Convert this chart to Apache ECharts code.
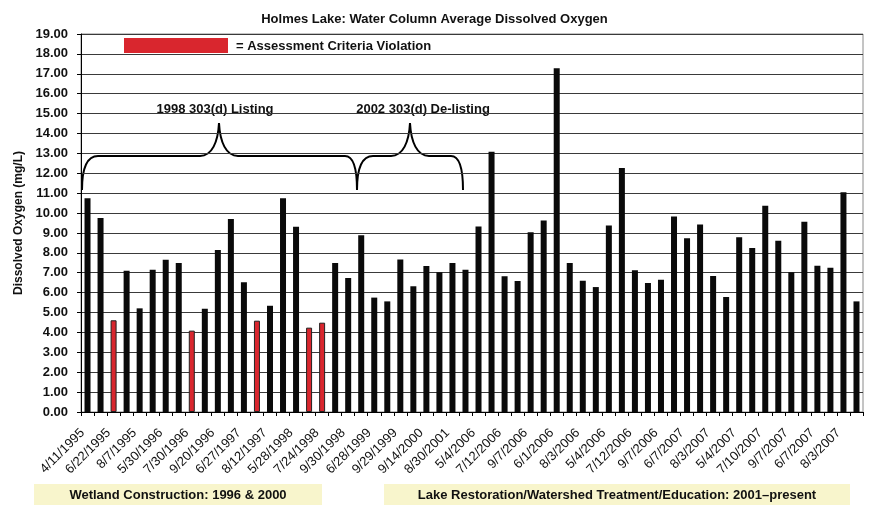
<!DOCTYPE html>
<html>
<head>
<meta charset="utf-8">
<script src="https://cdn.jsdelivr.net/npm/echarts@6/dist/echarts.min.js"></script>
<style>
  html, body { margin: 0; padding: 0; background: #fff; }
  #main { width: 869px; height: 505px; }
</style>
</head>
<body>
<div id="main"></div>
<script>
// sampling dates shown under every other bar
const tickLabels = [
  '4/11/1995', '6/22/1995', '8/7/1995', '5/30/1996', '7/30/1996', '9/20/1996',
  '6/27/1997', '8/12/1997', '5/28/1998', '7/24/1998', '9/30/1998', '6/28/1999',
  '9/29/1999', '9/14/2000', '8/30/2001', '5/4/2006', '7/12/2006', '9/7/2006',
  '6/1/2006', '8/3/2006', '5/4/2006', '7/12/2006', '9/7/2006', '6/7/2007',
  '8/3/2007', '5/4/2007', '7/10/2007', '9/7/2007', '6/7/2007', '8/3/2007'
];

// water column average dissolved oxygen, mg/L
const doValues = [
  10.75, 9.75, 4.61, 7.10, 5.21, 7.15, 7.65, 7.49, 4.09, 5.19,
  8.14, 9.70, 6.52, 4.59, 5.34, 10.74, 9.31, 4.24, 4.49, 7.49,
  6.73, 8.88, 5.75, 5.56, 7.67, 6.32, 7.34, 7.02, 7.49, 7.15,
  9.33, 13.08, 6.82, 6.58, 9.03, 9.63, 17.28, 7.49, 6.60, 6.28,
  9.38, 12.27, 7.12, 6.48, 6.65, 9.83, 8.73, 9.43, 6.83, 5.78,
  8.79, 8.24, 10.37, 8.61, 7.02, 9.56, 7.35, 7.25, 11.05, 5.56
];

const criteria = 5; // below this = violation

const categories = doValues.map((v, i) => (i % 2 === 0 ? tickLabels[i / 2] : ''));

const RED = '#d9262e';
const FONT = 'Liberation Sans, Arial, sans-serif';

// curly brace made of curves + straight pieces
function brace(x0, x1, xp, yEnd, yMid, yPeak) {
  let st = { stroke: '#000', lineWidth: 2, fill: null };
  let r = 16;
  return [
    { type: 'bezierCurve', shape: { x1: x0, y1: yEnd, cpx1: x0, cpy1: yMid + 10, cpx2: x0 + 6, cpy2: yMid, x2: x0 + r, y2: yMid }, style: st },
    { type: 'line', shape: { x1: x0 + r, y1: yMid, x2: xp - 19, y2: yMid }, style: st },
    { type: 'bezierCurve', shape: { x1: xp - 19, y1: yMid, cpx1: xp - 7, cpy1: yMid, cpx2: xp - 1, cpy2: yMid - 14, x2: xp, y2: yPeak }, style: st },
    { type: 'bezierCurve', shape: { x1: xp, y1: yPeak, cpx1: xp + 1, cpy1: yMid - 14, cpx2: xp + 7, cpy2: yMid, x2: xp + 19, y2: yMid }, style: st },
    { type: 'line', shape: { x1: xp + 19, y1: yMid, x2: x1 - 12, y2: yMid }, style: st },
    { type: 'bezierCurve', shape: { x1: x1 - 12, y1: yMid, cpx1: x1 - 4, cpy1: yMid, cpx2: x1, cpy2: yMid + 10, x2: x1, y2: yEnd }, style: st }
  ];
}

let chart = echarts.init(document.getElementById('main'), null, { renderer: 'canvas' });

let option = {
  animation: false,
  backgroundColor: '#fff',
  title: {
    text: 'Holmes Lake: Water Column Average Dissolved Oxygen',
    left: 'center',
    top: 8,
    textStyle: { fontFamily: FONT, fontSize: 13, fontWeight: 'bold', color: '#111' }
  },
  grid: {
    left: 81, right: 6, top: 34, bottom: 93,
    show: true, borderColor: '#8a8a8a', borderWidth: 1
  },
  xAxis: {
    type: 'category',
    data: categories,
    axisLine: { lineStyle: { color: '#000', width: 1 } },
    axisTick: { show: true, length: 4, lineStyle: { color: '#000' } },
    axisLabel: {
      interval: 0,
      rotate: 45,
      margin: 14,
      padding: [0, 7, 0, 0],
      fontFamily: FONT,
      fontSize: 13,
      color: '#111'
    }
  },
  yAxis: {
    type: 'value',
    min: 0,
    max: 19,
    interval: 1,
    name: 'Dissolved Oxygen (mg/L)',
    nameLocation: 'middle',
    nameGap: 48,
    nameTextStyle: { fontFamily: FONT, fontSize: 12, fontWeight: 'bold', color: '#111' },
    axisLine: { show: true, lineStyle: { color: '#000' } },
    axisTick: { show: true, length: 4, lineStyle: { color: '#000' } },
    axisLabel: {
      formatter: v => v.toFixed(2),
      fontFamily: FONT,
      fontSize: 13,
      fontWeight: 'bold',
      color: '#111',
      margin: 13
    },
    splitLine: { lineStyle: { color: '#3a3a3a', width: 1 } }
  },
  series: [{
    type: 'bar',
    data: doValues.map(v => (v < criteria
      ? { value: v, itemStyle: { color: RED, borderColor: '#222', borderWidth: 1 } }
      : v)),
    barWidth: 6,
    itemStyle: { color: '#0a0a0a' }
  }],
  graphic: [
    { type: 'rect', shape: { x: 124, y: 38, width: 104, height: 15 }, style: { fill: RED } },
    {
      type: 'text', x: 236, y: 46,
      style: { text: '= Assessment Criteria Violation', fill: '#111',
        font: 'bold 13px ' + FONT, verticalAlign: 'middle' }
    },
    {
      type: 'text', x: 215, y: 109,
      style: { text: '1998 303(d) Listing', fill: '#111', font: 'bold 13px ' + FONT,
        align: 'center', verticalAlign: 'middle' }
    },
    {
      type: 'text', x: 423, y: 109,
      style: { text: '2002 303(d) De-listing', fill: '#111', font: 'bold 13px ' + FONT,
        align: 'center', verticalAlign: 'middle' }
    },
    ...brace(82, 357, 219, 190, 156, 123),
    ...brace(357, 463, 410, 190, 156, 123),
    // period boxes along the bottom
    { type: 'rect', shape: { x: 34, y: 484, width: 288, height: 21 }, style: { fill: '#f8f5cc' } },
    {
      type: 'text', x: 178, y: 495,
      style: { text: 'Wetland Construction: 1996 & 2000', fill: '#111', font: 'bold 13px ' + FONT,
        align: 'center', verticalAlign: 'middle' }
    },
    { type: 'rect', shape: { x: 384, y: 484, width: 466, height: 21 }, style: { fill: '#f8f5cc' } },
    {
      type: 'text', x: 617, y: 495,
      style: { text: 'Lake Restoration/Watershed Treatment/Education: 2001\u2013present', fill: '#111',
        font: 'bold 13px ' + FONT, align: 'center', verticalAlign: 'middle' }
    }
  ]
};

chart.setOption(option);
</script>
</body>
</html>
